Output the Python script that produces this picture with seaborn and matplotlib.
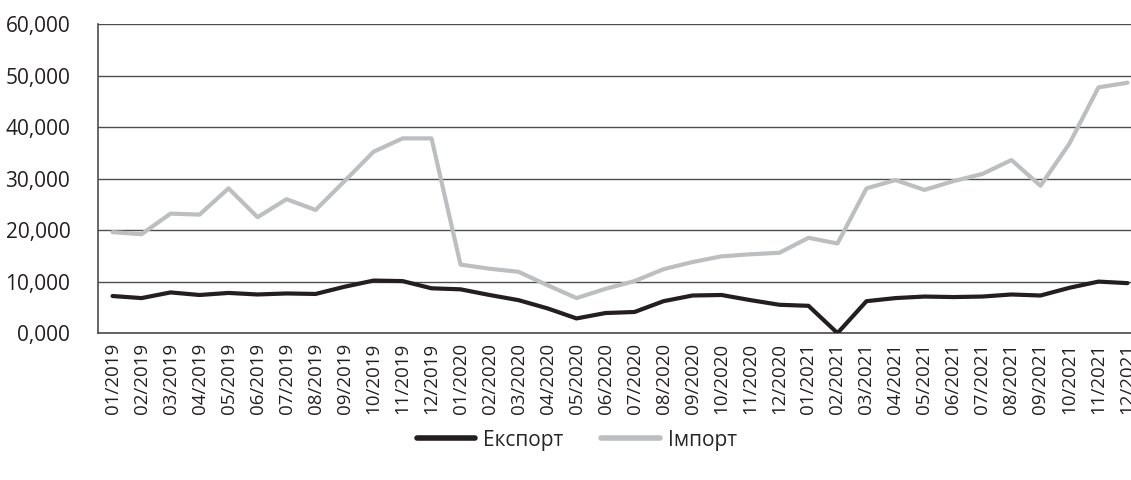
import matplotlib
matplotlib.use("Agg")
import matplotlib.pyplot as plt
import numpy as np
import pandas as pd
import seaborn as sns

months = [f"{m:02d}/{y}" for y in (2019, 2020, 2021) for m in range(1, 13)]

export = [7200, 6800, 7900, 7400, 7800, 7500, 7700, 7600, 9000, 10200, 10100, 8700,
          8500, 7400, 6400, 4800, 2850, 3900, 4100, 6200, 7300, 7400, 6400, 5500,
          5300, 0, 6200, 6800, 7100, 7000, 7100, 7500, 7300, 8800, 10000, 9700]
imports = [19600, 19200, 23200, 23000, 28100, 22500, 26000, 23900, 29500, 35200, 37800, 37800,
           13300, 12500, 11900, 9300, 6800, 8600, 10100, 12400, 13800, 14900, 15300, 15600,
           18500, 17400, 28100, 29700, 27800, 29500, 30900, 33600, 28600, 36800, 47700, 48600]

yticks = [0, 10000, 20000, 30000, 40000, 50000, 60000]
ytick_labels = ["0,000", "10,000", "20,000", "30,000", "40,000", "50,000", "60,000"]

series_names = ["Експорт", "Імпорт"]
colors = ["#231f20", "#bcbec0"]

df = pd.concat([
    pd.DataFrame({"idx": np.arange(len(months)), "value": export, "series": series_names[0]}),
    pd.DataFrame({"idx": np.arange(len(months)), "value": imports, "series": series_names[1]}),
])

sns.set_style("white")
plt.rcParams["font.family"] = ["Open Sans", "DejaVu Sans"]

fig = plt.figure(figsize=(11.31, 4.8), dpi=100)
ax = fig.add_axes([0.0867, 0.306, 0.923, 0.644])

sns.lineplot(data=df, x="idx", y="value", hue="series", palette=colors,
             linewidth=3, sort=False, ax=ax, legend=False, zorder=3)

ax.set_xlim(-0.5, len(months) - 0.5)
ax.set_ylim(0, 60000)
ax.set_yticks(yticks)
ax.set_yticklabels(ytick_labels, fontsize=15, color="#231f20")
ax.set_xticks(np.arange(len(months)))
ax.set_xticklabels(months, rotation=90, fontsize=13.5, color="#231f20")
ax.tick_params(axis="both", length=0, pad=7)
ax.tick_params(axis="y", pad=20)
ax.set_xlabel("")
ax.set_ylabel("")

ax.grid(axis="y", color="#4d4d4d", linewidth=1)
ax.set_axisbelow(True)
for side in ("top", "right"):
    ax.spines[side].set_visible(False)
for side in ("left", "bottom"):
    ax.spines[side].set_color("#4d4d4d")
    ax.spines[side].set_linewidth(1.2)

handles = [plt.Line2D([], [], color=c, linewidth=4) for c in colors]
fig.legend(handles, series_names, loc="center", bbox_to_anchor=(0.51, 0.083), ncol=2,
           frameon=False, fontsize=15, handlelength=2.8, columnspacing=1.8, handletextpad=0.4)

fig.savefig("out.png", dpi=100)
